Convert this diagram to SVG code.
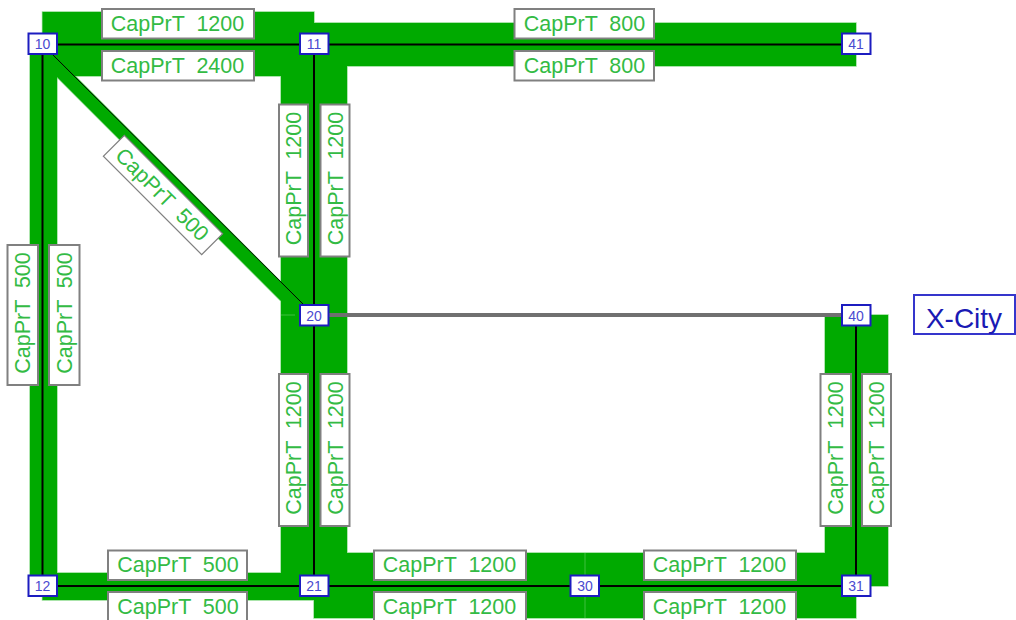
<svg xmlns="http://www.w3.org/2000/svg" width="1016" height="620" viewBox="0 0 1016 620">
<style>
.band{fill:#00aa00}
.edge{fill:none;stroke:#8fdc8f;stroke-width:1.4}
.seam{stroke:#3fbf3f;stroke-width:1;fill:none}
.link{stroke:#000;stroke-width:2;fill:none}
.thin{stroke:#000;stroke-width:1;fill:none}
.grey{stroke:#707070;stroke-width:4;fill:none}
.lb rect{fill:#fff;stroke:#808080;stroke-width:2}
.lb text{font-family:"Liberation Sans",Arial,sans-serif;font-size:21.5px;fill:#33bb44;text-anchor:middle;white-space:pre}
.diag rect{stroke-width:1.2}
.n rect{fill:#fff;stroke:#1c1cc0;stroke-width:2}
.n text{font-family:"Liberation Sans",Arial,sans-serif;font-size:14px;fill:#4a4ad0;text-anchor:middle}
.city rect{fill:#fff;stroke:#3535cc;stroke-width:2}
.city text{font-family:"Liberation Sans",Arial,sans-serif;font-size:28px;fill:#1a1ab4;text-anchor:middle}
</style>
<defs>
<path id="shape" d="M42.500 12H314V23H856V66H347V315H281V76H75L314 315H295L57 77V573H281V315H347V553H825V315H888V586H856V618H314V600H42.500V586H30V44H42.500Z"/>
</defs>
<g id="bands">
<use href="#shape" class="edge"/>
<use href="#shape" class="band"/>
<path class="seam" d="M585 553V618M281 315H295"/>
</g>
<g id="connectors">
<path class="link" d="M42.500 44.500H856"/>
<path class="link" d="M42.500 44.500V586"/>
<path class="link" d="M42.500 586H856"/>
<path class="link" d="M314 44.500V586"/>
<path class="link" d="M856 315V586"/>
<path class="thin" d="M42.500 44.500L314 315"/>
<path class="grey" d="M314 315H856"/>
</g>
<g id="labels">
<g class="lb"><rect x="102" y="9" width="152" height="29.500"/><text x="177.500" y="31">CapPrT  1200</text></g>
<g class="lb"><rect x="102" y="51" width="152" height="29.500"/><text x="177.500" y="73">CapPrT  2400</text></g>
<g class="lb"><rect x="514.500" y="9" width="139.500" height="29.500"/><text x="584.500" y="31">CapPrT  800</text></g>
<g class="lb"><rect x="514.500" y="51" width="139.500" height="29.500"/><text x="584.500" y="73">CapPrT  800</text></g>
<g class="lb diag" transform="rotate(45 163 195)"><rect x="93.500" y="180.200" width="139" height="29.600"/><text x="162" y="202.500">CapPrT  500</text></g>
<g class="lb" transform="rotate(-90 293.500 180.500)"><rect x="217.500" y="166" width="152" height="29"/><text x="295.500" y="188">CapPrT  1200</text></g>
<g class="lb" transform="rotate(-90 335 180.500)"><rect x="259" y="166" width="152" height="29"/><text x="337" y="188">CapPrT  1200</text></g>
<g class="lb" transform="rotate(-90 293.500 450)"><rect x="217.500" y="435.500" width="152" height="29"/><text x="295.500" y="457.500">CapPrT  1200</text></g>
<g class="lb" transform="rotate(-90 335 450)"><rect x="259" y="435.500" width="152" height="29"/><text x="337" y="457.500">CapPrT  1200</text></g>
<g class="lb" transform="rotate(-90 22.500 315)"><rect x="-47.500" y="300" width="140" height="30.500"/><text x="24.500" y="322.500">CapPrT  500</text></g>
<g class="lb" transform="rotate(-90 64 315)"><rect x="-6" y="300" width="140" height="30.500"/><text x="66" y="322.500">CapPrT  500</text></g>
<g class="lb" transform="rotate(-90 835.500 450)"><rect x="759.500" y="435" width="152" height="30.500"/><text x="837.500" y="457.500">CapPrT  1200</text></g>
<g class="lb" transform="rotate(-90 876.500 450)"><rect x="800.500" y="435.500" width="152" height="29"/><text x="878.500" y="457.500">CapPrT  1200</text></g>
<g class="lb"><rect x="108" y="550.500" width="139" height="29.500"/><text x="178" y="572">CapPrT  500</text></g>
<g class="lb"><rect x="108" y="592" width="139" height="30"/><text x="178" y="614">CapPrT  500</text></g>
<g class="lb"><rect x="374" y="550.500" width="152" height="29.500"/><text x="449.500" y="572">CapPrT  1200</text></g>
<g class="lb"><rect x="374" y="592" width="152" height="30"/><text x="449.500" y="614">CapPrT  1200</text></g>
<g class="lb"><rect x="644" y="550.500" width="152" height="29.500"/><text x="719.500" y="572">CapPrT  1200</text></g>
<g class="lb"><rect x="644" y="592" width="152" height="30"/><text x="719.500" y="614">CapPrT  1200</text></g>
</g>
<g id="n10" class="n"><rect x="28.500" y="33.500" width="28.500" height="20.500"/><text x="42.500" y="49">10</text></g>
<g id="n11" class="n"><rect x="300" y="33.500" width="28.500" height="20.500"/><text x="314" y="49">11</text></g>
<g id="n41" class="n"><rect x="842" y="33.500" width="28.500" height="20.500"/><text x="856" y="49">41</text></g>
<g id="n20" class="n"><rect x="300" y="305" width="28.500" height="20.500"/><text x="314" y="320.500">20</text></g>
<g id="n40" class="n"><rect x="842" y="305" width="28.500" height="20.500"/><text x="856" y="320.500">40</text></g>
<g id="n12" class="n"><rect x="28.500" y="575.500" width="28.500" height="20.500"/><text x="42.500" y="591">12</text></g>
<g id="n21" class="n"><rect x="300" y="575.500" width="28.500" height="20.500"/><text x="314" y="591">21</text></g>
<g id="n30" class="n"><rect x="570.500" y="575.500" width="28.500" height="20.500"/><text x="585" y="591">30</text></g>
<g id="n31" class="n"><rect x="842" y="575.500" width="28.500" height="20.500"/><text x="856" y="591">31</text></g>
<g id="xcity" class="city"><rect x="914" y="295" width="101" height="39"/><text x="964" y="327.500">X-City</text></g>
</svg>
